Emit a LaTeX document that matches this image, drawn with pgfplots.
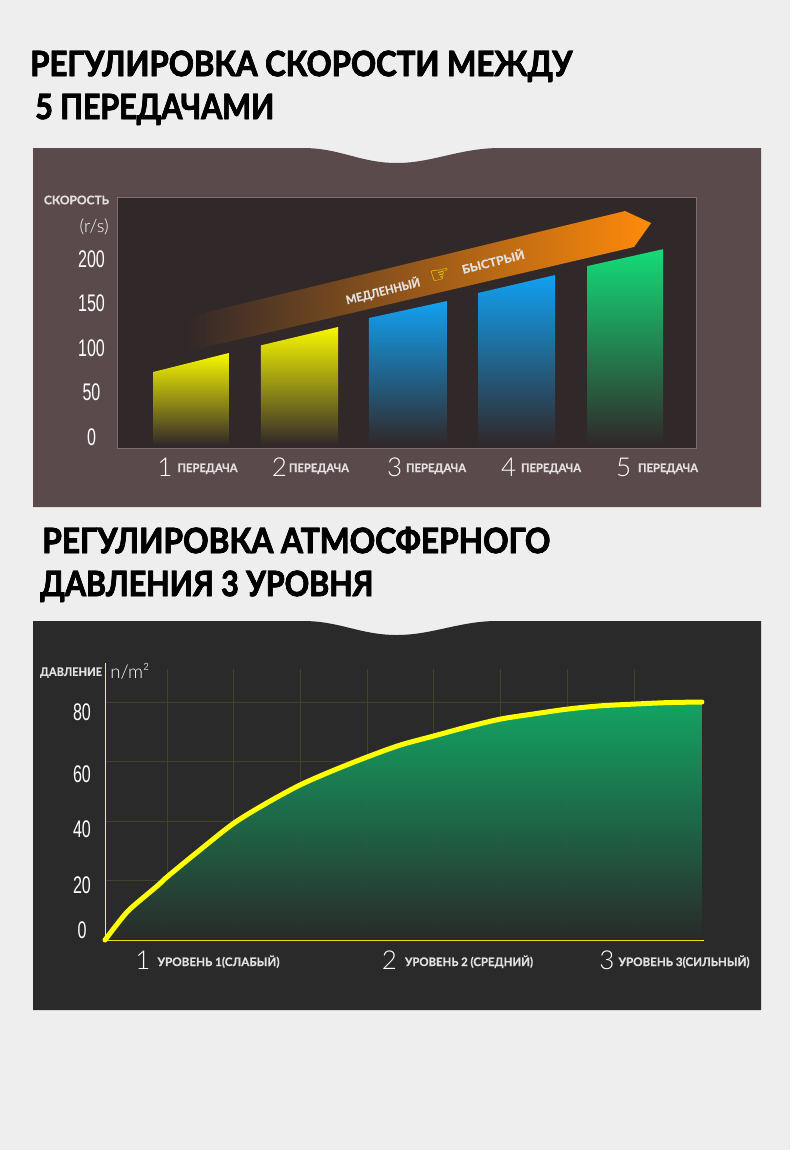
\documentclass[border=0pt]{standalone}
\usepackage{fontspec}
\usepackage{graphicx}
\usepackage{pgfplots}
\usepackage{pgfplotstable}
\pgfplotsset{compat=1.18}
\setmainfont{Lato}
\newfontfamily\tA[BoldFeatures={FakeBold=2.2}]{Lato}
\newfontfamily\tB{Lato}
\newfontfamily\smf[BoldFeatures={FakeBold=0.6}]{Lato}
\newfontfamily\thinf{Lato Light}
\newfontfamily\numf{Liberation Sans}
\newfontfamily\symf{DejaVu Sans}
\newlength\pxu \setlength\pxu{0.75pt}
\definecolor{pg}{HTML}{EEEEEE}
\definecolor{pa}{HTML}{5A4A4B}
\definecolor{pb}{HTML}{2A2A2A}
\definecolor{bga}{HTML}{312829}
\definecolor{bd}{HTML}{7D6F70}
\definecolor{ye}{HTML}{F8F800}
\definecolor{bl}{HTML}{12A0F0}
\definecolor{gr}{HTML}{14DC78}
\definecolor{grb}{HTML}{12AD68}
\definecolor{org}{HTML}{FF8A0A}
\definecolor{yl}{HTML}{FFFF00}
\definecolor{gridc}{HTML}{3F4529}
\definecolor{lab}{HTML}{E4E0E0}
% title: black heavy body, grey contour line inside it
\newcommand\ttl[3]{\resizebox{#1\pxu}{\height}{\fontsize{#2}{#2}\selectfont
  \rlap{\tA\bfseries\color{black}#3}%
  \special{pdf:code q 0.62 0.62 0.62 RG 0.35 w 1 Tr}{\tB\bfseries\color{black}#3}\special{pdf:code Q}}}
\newcommand\sm[2]{\resizebox{#1\pxu}{\height}{\fontsize{8.8pt}{8.8pt}\selectfont\smf\bfseries\color{lab}#2}}
\newcommand\dg[1]{{\fontsize{19.5pt}{19.5pt}\selectfont\thinf\color{white}#1}}
\newcommand\nb[1]{\scalebox{0.67}[1]{\fontsize{18pt}{18pt}\selectfont\numf\color{white}#1}}
\newcommand\gl[4]{\dg{#1}\hspace{#2\pxu}\raisebox{#3\pxu}{#4}}
\pgfplotstableread{
x y
0.07 0
0.265 5.7
0.445 10.4
0.865 18.4
1.0 21.2
1.495 30.3
2.004 39.3
2.5 46.1
2.994 52.1
3.504 57.1
3.999 61.5
4.493 65.5
5.003 68.6
5.498 71.6
6.008 74.3
6.502 76.0
6.997 77.6
7.492 78.7
8.002 79.3
8.512 79.8
9.02 80
}\curve
\begin{document}
\begin{tikzpicture}[x=0.75pt,y=-0.75pt]
\path[use as bounding box] (0,0) rectangle (790,1150);
\fill[pg] (0,0) rectangle (790,1150);
% panels
\fill[pa] (33,148) -- (303,148) .. controls (340,148) and (360,163) .. (397,163) .. controls (432,163) and (460,148) .. (500,148) -- (761,148) -- (761,507) -- (33,507) -- cycle;
\fill[pb] (33,621) -- (303,621) .. controls (340,621) and (360,635) .. (397,635) .. controls (432,635) and (460,621) .. (497,621) -- (761,621) -- (761,1010) -- (33,1010) -- cycle;
% titles
\node[anchor=base west,inner sep=0pt] at (30,76) {\ttl{542}{26pt}{РЕГУЛИРОВКА СКОРОСТИ МЕЖДУ}};
\node[anchor=base west,inner sep=0pt] at (35,119) {\ttl{239}{26pt}{5 ПЕРЕДАЧАМИ}};
\node[anchor=base west,inner sep=0pt] at (42,553) {\ttl{508}{26pt}{РЕГУЛИРОВКА АТМОСФЕРНОГО}};
\node[anchor=base west,inner sep=0pt] at (40,596) {\ttl{333}{26pt}{ДАВЛЕНИЯ 3 УРОВНЯ}};
% chart 1
\begin{axis}[
  at={(87.75pt,-336pt)},anchor=south west,scale only axis,
  width=434.25pt,height=188.25pt,
  xmin=0.318,xmax=5.654,ymin=-12.36,ymax=269.66,
  axis background/.style={fill=bga},
  axis line style={draw=bd,line width=0.75pt},
  major tick length=0pt,
  ytick={0,50,100,150,200},
  yticklabels={\nb{0},\nb{50},\nb{100},\nb{150},\nb{200}},
  y tick label style={anchor=base,inner sep=0pt,xshift=-25.5\pxu,yshift=-8\pxu},
  xtick={1.06,2.101,3.171,4.226,5.295},
  xticklabels={
    {\gl{1}{5}{4}{\sm{60}{ПЕРЕДАЧА}}},
    {\gl{2}{2}{4}{\sm{60}{ПЕРЕДАЧА}}},
    {\gl{3}{4}{4}{\sm{60}{ПЕРЕДАЧА}}},
    {\gl{4}{5}{4}{\sm{60}{ПЕРЕДАЧА}}},
    {\gl{5}{7}{4}{\sm{60}{ПЕРЕДАЧА}}}},
  x tick label style={anchor=base,inner sep=0pt,yshift=-28\pxu},
]
\addplot[draw=none,left color=bga,right color=org] coordinates {(0.945,95.5) (0.945,134.3) (5.0,253.9) (5.24,240.4) (5.083,213.5)} -- cycle;
\addplot[draw=none,top color=ye,bottom color=bga] coordinates {(0.65,-9) (0.65,73) (1.35,94.4) (1.35,-9)} -- cycle;
\addplot[draw=none,top color=ye,bottom color=bga] coordinates {(1.645,-9) (1.645,103) (2.355,123.6) (2.355,-9)} -- cycle;
\addplot[draw=none,top color=bl,bottom color=bga] coordinates {(2.64,-9) (2.64,133.7) (3.359,152.8) (3.359,-9)} -- cycle;
\addplot[draw=none,top color=bl,bottom color=bga] coordinates {(3.645,-9) (3.645,161.8) (4.355,182) (4.355,-9)} -- cycle;
\addplot[draw=none,top color=gr,bottom color=bga] coordinates {(4.65,-9) (4.65,192) (5.35,211) (5.35,-9)} -- cycle;
\end{axis}
\node[inner sep=0pt] at (76.5,200) {\resizebox{65\pxu}{\height}{\fontsize{8.8pt}{8.8pt}\selectfont\smf\bfseries\color{lab}СКОРОСТЬ}};
\node[anchor=base east,inner sep=0pt] at (109,232) {\fontsize{13.5pt}{13.5pt}\selectfont\thinf\color{white}(r/s)};
\node[rotate=14,inner sep=0pt] at (383,291) {\resizebox{76\pxu}{\height}{\fontsize{8.8pt}{8.8pt}\selectfont\smf\bfseries\color{lab}МЕДЛЕННЫЙ}};
\node[rotate=14,inner sep=0pt] at (441,275.5) {\fontsize{17pt}{17pt}\selectfont\symf\color{yl}☞};
\node[rotate=14,inner sep=0pt] at (493,261) {\resizebox{64\pxu}{\height}{\fontsize{8.8pt}{8.8pt}\selectfont\smf\bfseries\color{lab}БЫСТРЫЙ}};
% chart 2
\begin{axis}[
  at={(78.75pt,-705pt)},anchor=south west,scale only axis,
  width=444pt,height=203.25pt,
  xmin=0.07,xmax=8.946,ymin=0,ymax=91.09,
  clip=false,
  axis x line*=bottom,axis y line*=left,
  x axis line style={draw=yl,line width=0.75pt,-,shorten >=-5.25pt},
  y axis line style={draw=yl,line width=0.75pt,-,shorten >=-4.5pt},
  major tick length=0pt,
  ymajorgrids=true,
  grid style={draw=gridc,line width=0.6pt},
  ytick={0,20,40,60,80},
  yticklabels={
    \raisebox{2\pxu}{\nb{0}},\raisebox{-12.5\pxu}{\nb{20}},\raisebox{-16\pxu}{\nb{40}},\raisebox{-20.5\pxu}{\nb{60}},\raisebox{-18\pxu}{\nb{80}}},
  y tick label style={anchor=base,inner sep=0pt,xshift=-23\pxu},
  xtick={1.607,5.355,8.609},
  xticklabels={
    {\gl{1}{7}{3}{\sm{122}{УРОВЕНЬ 1(СЛАБЫЙ)}}},
    {\gl{2}{8}{3}{\sm{128}{УРОВЕНЬ 2 (СРЕДНИЙ)}}},
    {\gl{3}{4}{3}{\sm{131}{УРОВЕНЬ 3(СИЛЬНЫЙ)}}}},
  x tick label style={anchor=base,inner sep=0pt,yshift=-29\pxu},
  extra x ticks={1,2,3,4,5,6,7,8},
  extra x tick labels={},
  extra x tick style={xmajorgrids=true},
]
\addplot[draw=none,top color=grb,bottom color=pb,fill opacity=0.93] table {\curve} \closedcycle;
\addplot[yl,line width=3.75pt,line cap=round,smooth,no markers] table {\curve};
\end{axis}
\node[inner sep=0pt] at (71,672.7) {\resizebox{62\pxu}{\height}{\fontsize{8.8pt}{8.8pt}\selectfont\smf\bfseries\color{lab}ДАВЛЕНИЕ}};
\node[anchor=base west,inner sep=0pt] at (110,678) {\fontsize{14pt}{14pt}\selectfont\thinf\color{white}n/m²};
\end{tikzpicture}
\end{document}
